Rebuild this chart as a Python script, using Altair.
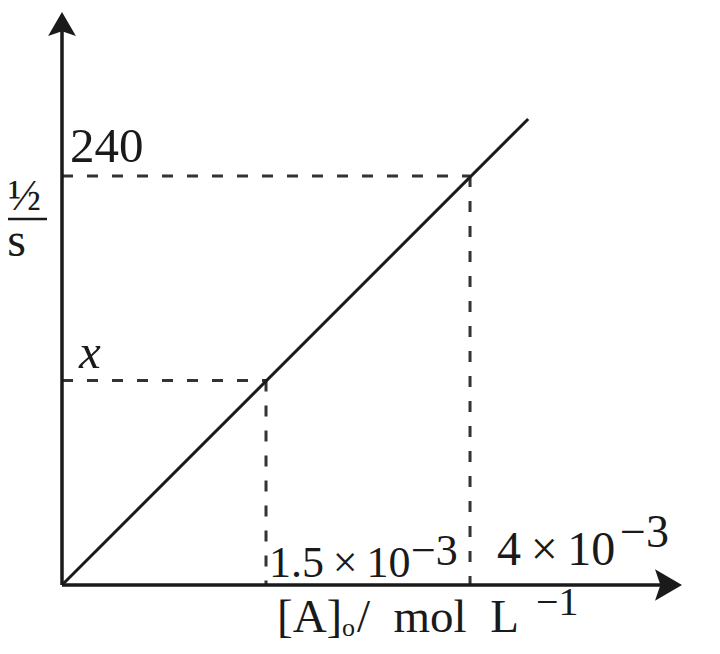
import altair as alt
import pandas as pd

# ---- values (the sketch is schematic: positions are in
# the picture's own scale, where the 4×10⁻³ mark sits at 4 and 240 at 240) ----
conc_pos = [2.0, 4.0]
conc_base = ["1.5\u2009\u00d7\u200910", "4\u2009\u00d7\u200910"]
conc_exp = ["\u22123", "\u22123"]
thalf_vals = [120, 240]
thalf_labels = ["x", "240"]
line_x = [0.0, 4.57]
line_y = [0.0, 273.5]
x_max = 6.078
y_max = 336.3

FONT = "Liberation Serif"
INK = "#1a1a1a"

xs = alt.Scale(domain=[0, x_max], nice=False, zero=True)
ys = alt.Scale(domain=[0, y_max], nice=False, zero=True)


def X(f):
    return alt.X(f, type="quantitative", scale=xs, axis=None)


def Y(f):
    return alt.Y(f, type="quantitative", scale=ys, axis=None)


# diagonal line
line = alt.Chart(pd.DataFrame({"x": line_x, "y": line_y})).mark_line(
    color=INK, strokeWidth=3
).encode(x=X("x"), y=Y("y"))

# dashed guides
guides = pd.DataFrame({"x": conc_pos, "y": thalf_vals, "zero": [0, 0]})
dash = dict(strokeDash=[11, 14], strokeWidth=3, color="#333333")
h_dash = alt.Chart(guides).mark_rule(**dash).encode(x=X("zero"), x2="x", y=Y("y"))
v_dash = alt.Chart(guides).mark_rule(**dash).encode(x=X("x"), y=Y("y"), y2="zero")

# axes with arrowheads
ax = pd.DataFrame({"x0": [0], "x1": [x_max - 0.2], "y0": [0], "y1": [y_max - 10]})
x_axis = alt.Chart(ax).mark_rule(color=INK, strokeWidth=3.5).encode(
    x=X("x0"), x2="x1", y=Y("y0")
)
y_axis = alt.Chart(ax).mark_rule(color=INK, strokeWidth=3.5).encode(
    x=X("x0"), y=Y("y0"), y2="y1"
)
arrow_r = alt.Chart(pd.DataFrame({"x": [x_max], "y": [0]})).mark_point(
    shape="M0,0 L-1,-0.58 L-0.8,0 L-1,0.58 Z", size=2916, filled=True,
    color=INK, opacity=1, strokeWidth=0
).encode(x=X("x"), y=Y("y"))
arrow_u = alt.Chart(pd.DataFrame({"x": [0], "y": [y_max]})).mark_point(
    shape="M0,0 L-0.58,1 L0,0.8 L0.58,1 Z", size=2304, filled=True,
    color=INK, opacity=1, strokeWidth=0
).encode(x=X("x"), y=Y("y"))


def label(x, y, text, dx, dy, size, align="left", italic=False):
    return alt.Chart(pd.DataFrame({"x": [x], "y": [y], "t": [text]})).mark_text(
        align=align, baseline="alphabetic", font=FONT, fontSize=size,
        fontStyle="italic" if italic else "normal", dx=dx, dy=dy, color=INK
    ).encode(x=X("x"), y=Y("y"), text="t:N")


texts = [
    # y-side labels
    label(0, thalf_vals[1], thalf_labels[1], 8, -14, 49),
    label(0, thalf_vals[0], thalf_labels[0], 17, -13, 49, italic=True),
    # x-side labels
    label(conc_pos[0], 0, conc_base[0], 3, -8, 44),
    label(conc_pos[0], 0, conc_exp[0], 145, -20, 44),
    label(conc_pos[1], 0, conc_base[1], 27, -20, 48),
    label(conc_pos[1], 0, conc_exp[1], 150, -38, 46),
    # x-axis title  [A]o / mol L^-1
    label(0, 0, "[A]", 215, 47, 47),
    label(0, 0, "o", 280, 51, 26),
    label(0, 0, "/\u2002mol\u2002L", 295, 47, 47),
    label(0, 0, "\u22121", 474, 30, 40),
]

# y-axis title  t½ / s (only the right part is visible in the original)
ytitle_num = alt.Chart(pd.DataFrame({"t": ["\u00bd"]})).mark_text(
    align="right", baseline="alphabetic", font=FONT, fontSize=44, color=INK
).encode(x=alt.value(-21), y=alt.value(198), text="t:N")
ytitle_den = alt.Chart(pd.DataFrame({"t": ["s"]})).mark_text(
    align="right", baseline="alphabetic", font=FONT, fontSize=48, color=INK
).encode(x=alt.value(-36), y=alt.value(244), text="t:N")
ytitle_bar = alt.Chart(pd.DataFrame({"t": [""]})).mark_rule(
    color=INK, strokeWidth=2.5
).encode(x=alt.value(-70), x2=alt.value(-15), y=alt.value(207))

chart = alt.layer(
    h_dash, v_dash, line, x_axis, y_axis, arrow_r, arrow_u,
    *texts, ytitle_num, ytitle_den, ytitle_bar
).properties(
    width=620,
    height=573,
    padding={"left": 54, "top": 4, "right": 30, "bottom": 58},
    autosize=alt.AutoSizeParams(type="none"),
    background="white",
).configure_view(stroke=None)

chart.save("out.html", embed_options={"renderer": "svg", "actions": False})
